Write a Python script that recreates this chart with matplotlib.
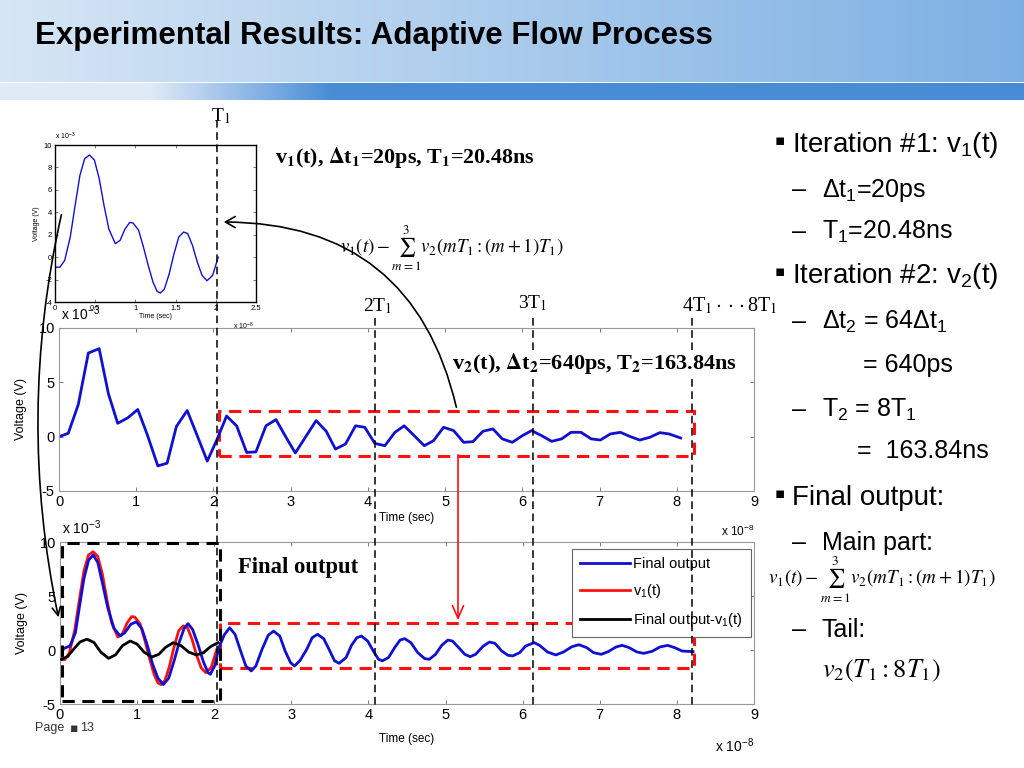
import matplotlib
matplotlib.use('Agg')
import matplotlib.pyplot as plt
import matplotlib.transforms as mtransforms
from matplotlib.patches import Rectangle, FancyArrowPatch
import numpy as np

plt.rcParams['font.family'] = ['Liberation Sans', 'DejaVu Sans']
plt.rcParams['axes.unicode_minus'] = False
plt.rcParams['mathtext.fontset'] = 'custom'
plt.rcParams['mathtext.rm'] = 'Liberation Sans'
plt.rcParams['mathtext.it'] = 'Liberation Sans:italic'
plt.rcParams['mathtext.bf'] = 'Liberation Sans:bold'

NARROW = ['Liberation Sans Narrow', 'Liberation Sans', 'DejaVu Sans']
SERIF = ['Liberation Serif', 'DejaVu Serif']

# %%
# Data (time in 1e-8 s, voltage in 1e-3 V)

T1 = 2.048
t_multiples = [1, 2, 3, 4]

# iteration 1: v1(t), fine step
t_v1 = [0, 0.06, 0.12, 0.19, 0.25, 0.31, 0.37, 0.43, 0.49, 0.55, 0.61, 0.67,
        0.75, 0.81, 0.87, 0.93, 0.97, 1.04, 1.10, 1.16, 1.22, 1.27, 1.31, 1.36,
        1.42, 1.48, 1.54, 1.60, 1.65, 1.71, 1.77, 1.83, 1.89, 1.96, 2.03]
v_v1 = [-0.9, -0.9, -0.3, 1.8, 4.6, 7.3, 8.8, 9.1, 8.66, 7.0, 4.6, 2.5,
        1.2, 1.5, 2.5, 3.1, 3.05, 2.4, 0.9, -0.75, -2.25, -3.05, -3.2, -2.85,
        -1.5, 0.3, 1.8, 2.24, 2.1, 1.05, -0.45, -1.64, -2.1, -1.64, 0.0]

# iteration 2: v2(t), coarse step
t_v2 = [0, 0.12, 0.25, 0.38, 0.52, 0.64, 0.76, 0.89, 1.02, 1.14, 1.28, 1.40,
        1.52, 1.66, 1.79, 1.92, 2.05, 2.17, 2.30, 2.43, 2.55, 2.68, 2.81, 2.94,
        3.06, 3.19, 3.33, 3.46, 3.58, 3.71, 3.84, 3.96, 4.09, 4.22, 4.35, 4.47,
        4.60, 4.73, 4.85, 4.98, 5.11, 5.24, 5.36, 5.49, 5.62, 5.74, 5.87, 6.00,
        6.12, 6.25, 6.38, 6.51, 6.63, 6.76, 6.89, 7.01, 7.14, 7.27, 7.40, 7.52,
        7.65, 7.78, 7.90, 8.05]
v_v2 = [0, 0.31, 2.96, 7.7, 8.1, 3.95, 1.23, 1.73, 2.5, 0.25, -2.69, -2.44,
        0.93, 2.41, 0.09, -2.25, -0.2, 1.9, 1.0, -1.45, -1.4, 1.0, 1.57, -0.06,
        -1.5, -0.06, 1.48, 0.5, -1.14, -0.68, 1.0, 0.86, -0.62, -0.83, 0.4, 1.0,
        0.09, -0.83, -0.37, 0.86, 0.56, -0.52, -0.46, 0.5, 0.71, -0.2, -0.52, 0.09,
        0.56, 0.09, -0.43, -0.2, 0.4, 0.4, -0.2, -0.31, 0.25, 0.4, 0.0, -0.31,
        -0.06, 0.37, 0.25, -0.12]

# final output
t_fin = [0.02, 0.13, 0.20, 0.25, 0.31, 0.37, 0.43, 0.49, 0.55, 0.62, 0.70, 0.78,
         0.84, 0.92, 0.99, 1.06, 1.13, 1.20, 1.27, 1.34, 1.41, 1.48, 1.55, 1.61,
         1.66, 1.72, 1.79, 1.86, 1.92, 1.95, 2.01, 2.06, 2.13, 2.20, 2.27, 2.35,
         2.41, 2.48,
         2.54, 2.62, 2.70, 2.77, 2.85, 2.92, 2.99, 3.04, 3.11, 3.20, 3.27, 3.34,
         3.42, 3.50, 3.56, 3.62, 3.71, 3.78, 3.85, 3.91, 3.99, 4.07, 4.13, 4.18,
         4.26, 4.34, 4.41, 4.47, 4.55, 4.64, 4.73, 4.79, 4.87, 4.95, 5.03, 5.09,
         5.17, 5.25, 5.32, 5.39, 5.49, 5.57, 5.64, 5.73, 5.81, 5.87, 5.96, 6.04,
         6.15, 6.22, 6.32, 6.43, 6.53, 6.64, 6.73, 6.83, 6.92, 7.02, 7.11, 7.21,
         7.29, 7.38, 7.48, 7.57, 7.68, 7.78, 7.88, 7.97, 8.07, 8.21]
v_fin = [0.06, 0.37, 1.6, 3.9, 6.6, 8.3, 8.8, 8.1, 6.2, 3.9, 2.0, 1.3,
         1.6, 2.4, 2.6, 2.0, 0.5, -1.3, -2.6, -3.2, -2.6, -1.0, 0.8, 2.0,
         2.44, 1.9, 0.5, -1.1, -2.1, -2.25, -1.4, 0.2, 1.4, 2.06, 1.45, -0.25,
         -1.48, -1.94,
         -1.48, 0.06, 1.36, 1.75, 1.3, -0.1, -1.17, -1.48, -1.0, 0.06, 1.14, 1.45,
         1.05, -0.1, -1.0, -1.23, -0.7, 0.43, 1.14, 1.29, 0.83, -0.18, -0.86, -1.0,
         -0.7, 0.22, 0.92, 1.05, 0.68, -0.25, -0.8, -0.86, -0.4, 0.43, 0.92, 0.83,
         0.22, -0.4, -0.62, -0.4, 0.37, 0.74, 0.62, -0.1, -0.49, -0.55, -0.25, 0.37,
         0.68, 0.43, -0.18, -0.46, -0.18, 0.31, 0.49, 0.22, -0.25, -0.4, -0.15, 0.28,
         0.43, 0.22, -0.18, -0.31, -0.12, 0.28, 0.43, 0.22, -0.1, -0.15]

# final output - v1(t)
t_diff = [0.02, 0.10, 0.18, 0.26, 0.35, 0.44, 0.53, 0.63, 0.72, 0.81, 0.91, 1.00,
          1.09, 1.19, 1.28, 1.37, 1.47, 1.57, 1.67, 1.77, 1.86, 1.95, 2.05]
v_diff = [-0.86, -0.6, 0.1, 0.75, 1.0, 0.7, -0.2, -0.77, -0.45, 0.4, 0.83, 0.55,
          -0.2, -0.65, -0.4, 0.25, 0.68, 0.4, -0.2, -0.46, -0.25, 0.3, 0.68]

# boxes: [t0, t1, v0, v1]
tail_box_v2 = [2.07, 8.22, -1.82, 2.4]
tail_box_fin = [2.07, 8.22, -1.7, 2.52]
main_box_fin = [0.02, 2.07, -4.7, 9.95]

legend_labels = ['Final output', 'v$_1$(t)', 'Final output-v$_1$(t)']

BLUE = '#1010d0'
RED = '#ff1010'

# %%
W, H = 1024, 768
fig = plt.figure(figsize=(W / 100, H / 100), dpi=100)


def px_axes(x0, y0, x1, y1, **kw):
    return fig.add_axes([x0 / W, 1 - y1 / H, (x1 - x0) / W, (y1 - y0) / H], **kw)


def matlab_style(ax, fs, spine='#999999', lw=0.8):
    ax.tick_params(direction='in', top=True, right=True, length=3, width=0.6,
                   labelsize=fs, color='#666666', pad=3)
    for s in ax.spines.values():
        s.set_color(spine)
        s.set_linewidth(lw)
    for lab in ax.get_xticklabels() + ax.get_yticklabels():
        lab.set_family(NARROW)


# background header
ax_bg = fig.add_axes([0, 0, 1, 1], zorder=-5)
ax_bg.set_xlim(0, W)
ax_bg.set_ylim(H, 0)
ax_bg.axis('off')
g = np.linspace(0, 1, 256)
top_c = np.array([0.84, 0.90, 0.96])[None, :] * (1 - g[:, None]) + np.array([0.49, 0.69, 0.89])[None, :] * g[:, None]
ax_bg.imshow(top_c[None, :, :], extent=[0, W, 82, 0], aspect='auto')
band = np.clip((np.linspace(0, W, 512) - 150) / 180, 0, 1)
band_c = np.array([0.88, 0.92, 0.97])[None, :] * (1 - band[:, None]) + np.array([0.29, 0.55, 0.84])[None, :] * band[:, None]
ax_bg.imshow(band_c[None, :, :], extent=[0, W, 100, 83], aspect='auto')
ax_bg.text(35, 36, 'Experimental Results: Adaptive Flow Process', fontsize=22.5,
           fontweight='bold', family=NARROW, va='center', ha='left')

# %%
# Inset: v1(t)
ax_in = px_axes(55, 145, 256, 302)
ax_in.plot(t_v1, v_v1, color=BLUE, lw=1.0)
ax_in.set_xlim(0, 2.5)
ax_in.set_ylim(-4, 10)
ax_in.set_xticks([0, 0.5, 1, 1.5, 2, 2.5])
ax_in.set_xticklabels(['0', '0.5', '1', '1.5', '2', '2.5'])
ax_in.set_yticks(range(-4, 11, 2))
matlab_style(ax_in, 5.5, spine='black', lw=1.0)
ax_in.tick_params(length=2, pad=2)
ax_in.set_xlabel('Time (sec)', fontsize=5, labelpad=1)
ax_in.set_ylabel('Voltage (V)', fontsize=5, labelpad=3)
ax_in.text(0.0, 1.02, 'x 10$^{-3}$', transform=ax_in.transAxes, fontsize=5, ha='left', va='bottom')
ax_in.text(0.99, -0.12, 'x 10$^{-8}$', transform=ax_in.transAxes, fontsize=5, ha='right', va='top')

# %%
# Middle: v2(t)
ax_mid = px_axes(59, 328, 754, 491)
ax_mid.plot(t_v2, v_v2, color=BLUE, lw=2.0)
ax_mid.set_xlim(0, 9)
ax_mid.set_ylim(-5, 10)
ax_mid.set_xticks(range(0, 10))
ax_mid.set_yticks([-5, 0, 5, 10])
matlab_style(ax_mid, 10.5)
ax_mid.set_xlabel('Time (sec)', fontsize=8.5, labelpad=2)
ax_mid.set_ylabel('Voltage (V)', fontsize=9, labelpad=8)
ax_mid.text(0.003, 1.03, 'x 10$^{-3}$', transform=ax_mid.transAxes, fontsize=10, ha='left', va='bottom', family=NARROW)
ax_mid.text(1.0, -0.2, 'x 10$^{-8}$', transform=ax_mid.transAxes, fontsize=8.5, ha='right', va='top')
x0, x1, y0, y1 = tail_box_v2
ax_mid.add_patch(Rectangle((x0, y0), x1 - x0, y1 - y0, fill=False, ec=RED, lw=2.2,
                           ls=(0, (4, 2.5)), clip_on=False))

# %%
# Bottom: final output
ax_bot = px_axes(60, 542, 754, 704)
l2, = ax_bot.plot(t_v1, v_v1, color=RED, lw=2.0, zorder=2)
l1, = ax_bot.plot(t_fin, v_fin, color=BLUE, lw=2.0, zorder=2.5)
l3, = ax_bot.plot(t_diff, v_diff, color='black', lw=2.0, zorder=3)
ax_bot.set_xlim(0, 9)
ax_bot.set_ylim(-5, 10)
ax_bot.set_xticks(range(0, 10))
ax_bot.set_yticks([-5, 0, 5, 10])
matlab_style(ax_bot, 10.5)
ax_bot.set_xlabel('Time (sec)', fontsize=8.5, labelpad=8)
ax_bot.set_ylabel('Voltage (V)', fontsize=9, labelpad=8)
ax_bot.text(0.003, 1.03, 'x 10$^{-3}$', transform=ax_bot.transAxes, fontsize=10, ha='left', va='bottom', family=NARROW)
ax_bot.text(1.0, -0.2, 'x 10$^{-8}$', transform=ax_bot.transAxes, fontsize=10, ha='right', va='top', family=NARROW)
x0, x1, y0, y1 = tail_box_fin
ax_bot.add_patch(Rectangle((x0, y0), x1 - x0, y1 - y0, fill=False, ec=RED, lw=2.2,
                           ls=(0, (4, 2.5)), clip_on=False))
x0, x1, y0, y1 = main_box_fin
ax_bot.add_patch(Rectangle((x0, y0), x1 - x0, y1 - y0, fill=False, ec='black', lw=2.2,
                           ls=(0, (4, 2.5)), clip_on=False, zorder=4))
leg = ax_bot.legend([l1, l2, l3], legend_labels, loc='upper right',
                    bbox_to_anchor=(0.996, 0.955), borderaxespad=0, fontsize=10.5,
                    handlelength=3.4, fancybox=False, framealpha=1, edgecolor='#666666',
                    borderpad=0.55, labelspacing=0.75, handletextpad=0.25)
leg.get_frame().set_linewidth(0.8)
for txt in leg.get_texts():
    txt.set_family(NARROW)

# %%
# Overlay for annotations (pixel coordinates)
ax_ov = fig.add_axes([0, 0, 1, 1], zorder=10)
ax_ov.patch.set_alpha(0)
ax_ov.axis('off')

blend = mtransforms.blended_transform_factory(ax_mid.transData, ax_ov.transData)
for k in t_multiples:
    top = 120 if k == 1 else 318
    ax_ov.plot([k * T1, k * T1], [top, 706], transform=blend, color='black',
               lw=1.1, ls=(0, (5, 3)))

ax_ov.set_xlim(0, W)
ax_ov.set_ylim(H, 0)

ax_ov.text(221, 116, 'T$_1$', fontsize=14, family=SERIF, math_fontfamily='stix', ha='center', va='center')
ax_ov.text(378, 306, '2T$_1$', fontsize=14, family=SERIF, math_fontfamily='stix', ha='center', va='center')
ax_ov.text(533, 303, '3T$_1$', fontsize=14, family=SERIF, math_fontfamily='stix', ha='center', va='center')
ax_ov.text(682, 306, '4T$_1\\cdot\\cdot\\cdot$8T$_1$', fontsize=14.5, family=SERIF, math_fontfamily='stix', ha='left', va='center')

ax_ov.text(275, 158, r'v$_\mathbf{1}$(t), $\mathbf{\Delta}$t$_\mathbf{1}$=20ps, T$_\mathbf{1}$=20.48ns',
           fontsize=15.8, fontweight='bold', family=SERIF, math_fontfamily='stix', ha='left', va='center')
ax_ov.text(452, 364, r'v$_\mathbf{2}$(t), $\mathbf{\Delta}$t$_\mathbf{2}$=640ps, T$_\mathbf{2}$=163.84ns',
           fontsize=16, fontweight='bold', family=SERIF, math_fontfamily='stix', ha='left', va='center',
           bbox=dict(facecolor='white', edgecolor='none', pad=0.5))
ax_ov.text(238, 568, 'Final output', fontsize=16.3, fontweight='bold', family=SERIF,
           ha='left', va='center')
ax_ov.text(340, 248, r'$v_1(t)-\sum_{m=1}^{3}v_2(mT_1:(m+1)T_1)$', fontsize=13.5,
           math_fontfamily='stix', ha='left', va='center')

# arrows
ax_ov.add_patch(FancyArrowPatch((457, 410), (221, 222), connectionstyle='arc3,rad=0.4',
                                arrowstyle='->,head_length=7,head_width=4', color='black', lw=1.2,
                                zorder=1))
ax_ov.add_patch(FancyArrowPatch((62, 212), (59, 620), connectionstyle='arc3,rad=0.11',
                                arrowstyle='->,head_length=6,head_width=3', color='black', lw=1.2))
ax_ov.add_patch(FancyArrowPatch((458, 452), (458, 623), arrowstyle='->,head_length=9,head_width=4',
                                color=RED, lw=1.2))

# page
ax_ov.text(35, 728, 'Page', fontsize=9, ha='left', va='center', color='#333333')
ax_ov.text(70, 728, '\u25aa', fontsize=9, ha='left', va='center', color='#333333', family='DejaVu Sans')
ax_ov.text(80, 728, '13', fontsize=9, ha='left', va='center', color='#333333')

# right-hand bullets
MAIN = 20
SUB = 18


def bullet(y, s):
    ax_ov.text(775, y - 7, '\u25aa', fontsize=11, family='DejaVu Sans', ha='left', va='baseline')
    ax_ov.text(792, y, s, fontsize=MAIN, ha='left', va='baseline')


def dash(y, s):
    ax_ov.text(792, y, '\u2013', fontsize=SUB, ha='left', va='baseline')
    ax_ov.text(822, y, s, fontsize=SUB, ha='left', va='baseline')


bullet(152, 'Iteration #1: v$_1$(t)')
dash(197, '\u0394t$_1$=20ps')
dash(239, 'T$_1$=20.48ns')
bullet(283, 'Iteration #2: v$_2$(t)')
dash(329, '\u0394t$_2$ = 64\u0394t$_1$')
ax_ov.text(863, 372, '= 640ps', fontsize=SUB, ha='left', va='baseline')
dash(417, 'T$_2$ = 8T$_1$')
ax_ov.text(857, 458, '=  163.84ns', fontsize=SUB, ha='left', va='baseline')
bullet(505, 'Final output:')
dash(550, 'Main part:')
ax_ov.text(768, 580, r'$v_1(t)-\sum_{m=1}^{3}v_2(mT_1:(m+1)T_1)$', fontsize=13.8,
           math_fontfamily='stix', ha='left', va='center')
dash(637, 'Tail:')
ax_ov.text(822, 677, r'$v_2(T_1:8T_1)$', fontsize=19, math_fontfamily='stix', ha='left', va='baseline')

fig.savefig('out.png', dpi=100)
